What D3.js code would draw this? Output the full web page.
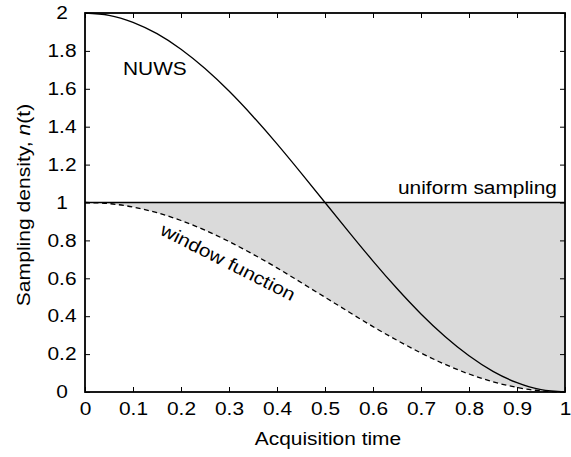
<!DOCTYPE html>
<html>
<head>
<meta charset="utf-8">
<script src="https://cdn.jsdelivr.net/npm/d3@7"></script>
<style>
  body { margin: 0; background: #fff; }
  svg { display: block; }
  text { font-family: "Liberation Sans", Arial, Helvetica, sans-serif; fill: #000; }
</style>
</head>
<body>
<svg id="chart" width="571" height="457"></svg>
<script>
// Acquisition time samples and the densities drawn over them
const times = [0, 0.05, 0.1, 0.15, 0.2, 0.25, 0.3, 0.35, 0.4, 0.45, 0.5,
               0.55, 0.6, 0.65, 0.7, 0.75, 0.8, 0.85, 0.9, 0.95, 1];
const nuwsDensity = [2.000, 1.988, 1.951, 1.891, 1.809, 1.707, 1.588, 1.454, 1.309, 1.156, 1.000,
                     0.844, 0.691, 0.546, 0.412, 0.293, 0.191, 0.109, 0.049, 0.012, 0.000];
const windowFunction = [1.000, 0.994, 0.976, 0.946, 0.905, 0.854, 0.794, 0.727, 0.655, 0.578, 0.500,
                        0.422, 0.345, 0.273, 0.206, 0.146, 0.095, 0.054, 0.024, 0.006, 0.000];
const uniformDensity = [1, 1];
const uniformTimes = [0, 1];

const xTicks = [0, 0.1, 0.2, 0.3, 0.4, 0.5, 0.6, 0.7, 0.8, 0.9, 1];
const xTickLabels = ["0", "0.1", "0.2", "0.3", "0.4", "0.5", "0.6", "0.7", "0.8", "0.9", "1"];
const yTicks = [0, 0.2, 0.4, 0.6, 0.8, 1, 1.2, 1.4, 1.6, 1.8, 2];
const yTickLabels = ["0", "0.2", "0.4", "0.6", "0.8", "1", "1.2", "1.4", "1.6", "1.8", "2"];

const svg = d3.select("#chart");
const m = { left: 85, right: 565, top: 13, bottom: 392 };
const FS = 18;       // label font size
const WIDEN = 1.16;  // horizontal widening of the lettering

const x = d3.scaleLinear().domain([0, 1]).range([m.left, m.right]);
const y = d3.scaleLinear().domain([0, 2]).range([m.bottom, m.top]);

function widen(sel, k) {
  sel.each(function () {
    const len = this.getComputedTextLength();
    d3.select(this).attr("textLength", len * k).attr("lengthAdjust", "spacingAndGlyphs");
  });
}

// shaded gap between uniform sampling and the window function
const band = times.map((t, i) => ({ t, lo: windowFunction[i], hi: 1 }));
svg.append("path")
  .datum(band)
  .attr("fill", "#dadada")
  .attr("d", d3.area()
    .x(d => x(d.t))
    .y0(d => y(d.lo))
    .y1(d => y(d.hi))
    .curve(d3.curveNatural));

// uniform sampling
svg.append("path")
  .datum(uniformTimes.map((t, i) => ({ t, v: uniformDensity[i] })))
  .attr("fill", "none").attr("stroke", "#000").attr("stroke-width", 1.3)
  .attr("d", d3.line().x(d => x(d.t)).y(d => y(d.v)));

// window function
svg.append("path")
  .datum(times.map((t, i) => ({ t, v: windowFunction[i] })))
  .attr("fill", "none").attr("stroke", "#000").attr("stroke-width", 1.3)
  .attr("stroke-dasharray", "5,3.5")
  .attr("d", d3.line().x(d => x(d.t)).y(d => y(d.v)).curve(d3.curveNatural));

// NUWS density
svg.append("path")
  .datum(times.map((t, i) => ({ t, v: nuwsDensity[i] })))
  .attr("fill", "none").attr("stroke", "#000").attr("stroke-width", 1.3)
  .attr("d", d3.line().x(d => x(d.t)).y(d => y(d.v)).curve(d3.curveNatural));

// axes with inward ticks on all four sides
const fmtX = d => xTickLabels[xTicks.indexOf(d)];
const fmtY = d => yTickLabels[yTicks.indexOf(d)];

const gB = svg.append("g").attr("transform", `translate(0,${m.bottom})`)
  .call(d3.axisBottom(x).tickValues(xTicks).tickFormat(fmtX).tickSizeInner(-5).tickSizeOuter(0).tickPadding(10));
const gL = svg.append("g").attr("transform", `translate(${m.left},0)`)
  .call(d3.axisLeft(y).tickValues(yTicks).tickFormat(fmtY).tickSizeInner(-5).tickSizeOuter(0));
const gT = svg.append("g").attr("transform", `translate(0,${m.top})`)
  .call(d3.axisTop(x).tickValues(xTicks).tickFormat("").tickSizeInner(-5).tickSizeOuter(0));
const gR = svg.append("g").attr("transform", `translate(${m.right},0)`)
  .call(d3.axisRight(y).tickValues(yTicks).tickFormat("").tickSizeInner(-5).tickSizeOuter(0));

[gB, gL, gT, gR].forEach(g => {
  g.select(".domain").remove();
  g.selectAll(".tick line").attr("stroke", "#000").attr("stroke-width", 1);
  g.selectAll("text").attr("font-size", FS).attr("font-family", null).attr("fill", "#000");
});
gL.selectAll(".tick text").attr("text-anchor", "middle").attr("x", 62 - m.left);
widen(gB.selectAll(".tick text"), WIDEN);
widen(gL.selectAll(".tick text"), WIDEN);

// frame
svg.append("rect")
  .attr("x", m.left).attr("y", m.top)
  .attr("width", m.right - m.left).attr("height", m.bottom - m.top)
  .attr("fill", "none").attr("stroke", "#000").attr("stroke-width", 1.8);

// curve annotations
widen(svg.append("text").attr("x", 123).attr("y", 75).attr("font-size", FS).text("NUWS"), WIDEN);
widen(svg.append("text").attr("x", 557).attr("y", 194).attr("font-size", FS)
  .attr("text-anchor", "end").text("uniform sampling"), WIDEN);
widen(svg.append("text")
  .attr("transform", "translate(228,262) rotate(27)")
  .attr("text-anchor", "middle").attr("dy", "0.35em")
  .attr("font-size", FS).text("window function"), WIDEN);

// axis titles
widen(svg.append("text").attr("x", 328).attr("y", 445).attr("font-size", FS)
  .attr("text-anchor", "middle").text("Acquisition time"), WIDEN);

const yTitle = svg.append("text")
  .attr("transform", "translate(30,205) rotate(-90)")
  .attr("text-anchor", "middle").attr("font-size", 19);
yTitle.append("tspan").text("Sampling density, ");
yTitle.append("tspan").attr("font-style", "italic").text("n");
yTitle.append("tspan").text("(t)");
widen(yTitle, 1.11);
</script>
</body>
</html>
